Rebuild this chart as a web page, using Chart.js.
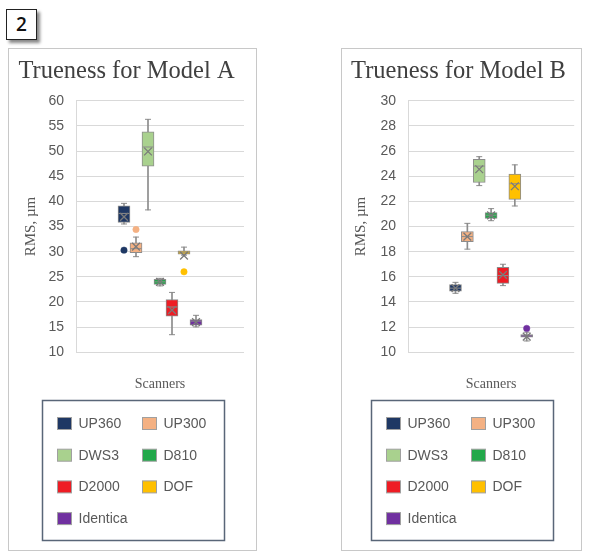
<!DOCTYPE html>
<html>
<head>
<meta charset="utf-8">
<script src="https://cdn.jsdelivr.net/npm/chart.js@4"></script>
<style>
body { margin: 0; background: #fff; width: 590px; height: 555px; position: relative; overflow: hidden; }
.tag { position: absolute; left: 6px; top: 9px; width: 29px; height: 29px; border: 1.5px solid #222; box-shadow: 3px 3px 3px #888; background: #fff;
       font: 600 19px 'Open Sans', sans-serif; text-align: center; line-height: 29px; color: #111; }
.panel { position: absolute; top: 48px; height: 501px; border: 1px solid #c8c8c8; }
#pa { left: 8px; width: 247px; }
#pb { left: 341px; width: 239px; }
canvas { display: block; }
</style>
</head>
<body>
<div class="tag">2</div>
<div class="panel" id="pa"><canvas id="ca" width="247" height="501"></canvas></div>
<div class="panel" id="pb"><canvas id="cb" width="239" height="501"></canvas></div>
<script>
// scanners and their colours
const scanners = ['UP360', 'UP300', 'DWS3', 'D810', 'D2000', 'DOF', 'Identica'];
const colors = ['#1f3864', '#f4b183', '#a9d18e', '#22a84a', '#ee1c24', '#ffc000', '#7030a0'];

// Model A (RMS, µm)
const minA = [35.5, 29.0, 38.3, 23.2, 13.5, 29.3, 15.05];
const q1A = [35.8, 29.8, 47.0, 23.5, 17.2, 29.5, 15.4];
const medA = [37.6, 30.6, 50.8, 24.0, 19.0, 29.9, 16.2];
const q3A = [39.1, 31.75, 53.8, 24.5, 20.5, 30.15, 16.5];
const maxA = [39.6, 32.9, 56.3, 24.7, 21.9, 30.9, 17.35];
const meanA = [36.9, 31.0, 49.9, 24.0, 18.4, 29.2, 16.0];
const outliersA = [[30.3], [34.4], [], [], [], [26.0], []];

// Model B (RMS, µm)
const minB = [14.69, 18.2, 23.25, 20.46, 15.3, 21.63, 10.9];
const q1B = [14.85, 18.8, 23.5, 20.65, 15.48, 22.16, 11.2];
const medB = [15.1, 19.2, 24.8, 20.9, 16.1, 23.4, 11.3];
const q3B = [15.38, 19.59, 25.34, 21.1, 16.76, 24.17, 11.4];
const maxB = [15.56, 20.25, 25.55, 21.42, 17.0, 24.9, 11.6];
const meanB = [15.1, 19.2, 24.55, 20.88, 16.15, 23.2, 11.25];
const outliersB = [[], [], [], [], [], [], [11.9]];

const ticksA = { min: 10, max: 60, step: 5 };
const ticksB = { min: 10, max: 30, step: 2 };

Chart.defaults.font.family = "'Liberation Sans', Arial, sans-serif";
const gray = '#8c8c8c';

function boxDatasets(min, q1, med, q3, max, mean, outliers) {
  const idx = scanners.map((s, i) => i);
  const caps = [];
  idx.forEach(i => { caps.push({ x: i, y: min[i] }); caps.push({ x: i, y: max[i] }); });
  const outs = [];
  outliers.forEach((list, i) => list.forEach(v => outs.push({ x: i, y: v })));
  return [
    { type: 'bar', data: idx.map(i => ({ x: i, y: [min[i], max[i]] })), backgroundColor: gray,
      barThickness: 1, grouped: false, order: 6 },
    { type: 'bar', data: idx.map(i => ({ x: i, y: [q1[i], q3[i]] })), backgroundColor: colors,
      borderColor: gray, borderWidth: 1, borderSkipped: false, barThickness: 12, grouped: false, order: 5 },
    { type: 'scatter', data: idx.map(i => ({ x: i, y: med[i] })), pointStyle: 'line', pointRadius: 5.5,
      borderColor: gray, borderWidth: 1, order: 4 },
    { type: 'scatter', data: caps, pointStyle: 'line', pointRadius: 3, borderColor: gray, borderWidth: 1, order: 3 },
    { type: 'scatter', data: idx.map(i => ({ x: i, y: mean[i] })), pointStyle: 'crossRot', pointRadius: 5.5,
      borderColor: '#7a7a7a', borderWidth: 1.3, order: 2 },
    { type: 'scatter', data: outs, pointStyle: 'circle', pointRadius: 3.2,
      backgroundColor: c => colors[c.raw.x], borderColor: c => colors[c.raw.x], borderWidth: 0.5, order: 1 }
  ];
}

// legend drawn as a framed two-column block under the axis title
const boxLegend = {
  id: 'boxLegend',
  afterDraw(chart) {
    const ctx = chart.ctx;
    const w = 182, h = 140;
    const left = Math.round((chart.width - w) / 2) + 0.5;
    const top = Math.round(chart.scales.x.bottom) + 0.5;
    ctx.save();
    ctx.strokeStyle = '#596678';
    ctx.lineWidth = 1.5;
    ctx.strokeRect(left, top, w, h);
    ctx.font = "14px 'Liberation Sans', Arial, sans-serif";
    ctx.textBaseline = 'middle';
    scanners.forEach((name, i) => {
      const col = i % 2, row = Math.floor(i / 2);
      const cy = top + 23 + row * 31.7;
      const sx = left + 15 + col * 85;
      ctx.fillStyle = colors[i];
      ctx.fillRect(sx, cy - 6, 14, 12);
      ctx.strokeStyle = '#a0a0a0';
      ctx.lineWidth = 1;
      ctx.strokeRect(sx, cy - 6, 14, 12);
      ctx.fillStyle = '#595959';
      ctx.fillText(name, sx + 21, cy + 0.5);
    });
    ctx.restore();
  }
};

function makeChart(id, title, ticks, sets, yWidth, yTitlePad, padRight) {
  new Chart(document.getElementById(id), {
    type: 'bar',
    data: { datasets: sets },
    plugins: [boxLegend],
    options: {
      responsive: false,
      animation: false,
      layout: { padding: { left: 0, right: padRight, top: 0, bottom: 150 } },
      plugins: {
        legend: { display: false },
        tooltip: { enabled: false },
        title: {
          display: true, text: title, color: '#404040',
          font: { family: "'Liberation Serif', serif", size: 24.5, weight: 'normal' },
          padding: { top: 8.3, bottom: 14 }
        }
      },
      scales: {
        x: {
          type: 'linear', min: -4, max: 10, offset: false,
          ticks: { display: false },
          grid: { display: false, drawTicks: false },
          border: { display: false },
          title: {
            display: true, text: 'Scanners', color: '#595959',
            font: { family: "'Liberation Serif', serif", size: 14 },
            padding: { top: 23.3, bottom: 7.6 }
          }
        },
        y: {
          min: ticks.min, max: ticks.max,
          afterFit: s => { s.width = yWidth; },
          ticks: { stepSize: ticks.step, color: '#595959', font: { size: 14 }, padding: 12 },
          grid: { color: '#d9d9d9', drawTicks: false },
          border: { color: '#d9d9d9' },
          title: {
            display: true, text: 'RMS, µm', color: '#595959',
            font: { family: "'Liberation Serif', serif", size: 15 },
            padding: { top: yTitlePad, bottom: 0 }
          }
        }
      }
    }
  });
}

makeChart('ca', 'Trueness for Model A', ticksA,
  boxDatasets(minA, q1A, medA, q3A, maxA, meanA, outliersA), 67, 13, 12);
makeChart('cb', 'Trueness for Model B', ticksB,
  boxDatasets(minB, q1B, medB, q3B, maxB, meanB, outliersB), 66, 10, 6);
</script>
</body>
</html>
